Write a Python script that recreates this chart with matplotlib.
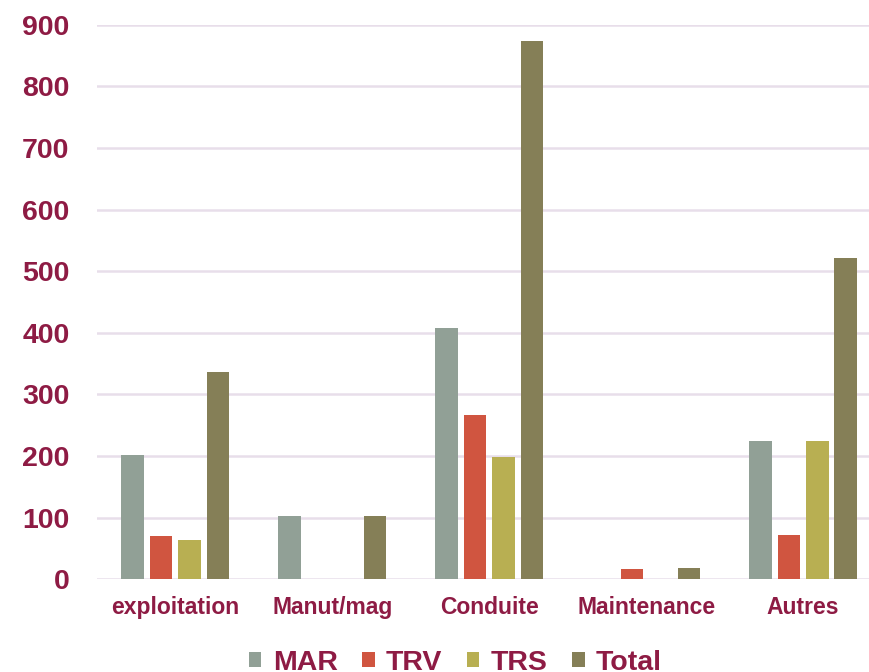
import matplotlib.pyplot as plt
import numpy as np

plt.rcParams['font.family'] = ['Liberation Sans', 'DejaVu Sans']

categories = ["exploitation", "Manut/mag", "Conduite", "Maintenance", "Autres"]
series = ["MAR", "TRV", "TRS", "Total"]
mar = [201, 102, 408, 0, 224]
trv = [70, 0, 266, 17, 72]
trs = [63, 0, 198, 0, 224]
total = [337, 102, 874, 18, 521]
colors = ["#91A096", "#D05540", "#B8AF52", "#857F57"]
text_color = "#8E1B44"

x = np.arange(len(categories))
width = 0.143
step = 0.181

fig = plt.figure(figsize=(8.69, 6.72), dpi=100)
ax = fig.add_axes([0.112, 0.138, 0.888, 0.825])

for i, (name, vals) in enumerate(zip(series, [mar, trv, trs, total])):
    ax.bar(x + (i - 1.5) * step, vals, width, color=colors[i], label=name, zorder=3)

ax.set_ylim(0, 900)
ax.set_xlim(-0.497, 4.42)
ax.set_yticks(range(0, 901, 100))
ax.set_xticks(x, categories)
ax.grid(axis='y', color='#E8DEEA', linewidth=1.8, zorder=0)
for s in ax.spines.values():
    s.set_visible(False)
ax.tick_params(axis='y', length=0, pad=20, labelsize=20.5, labelcolor=text_color)
ax.tick_params(axis='x', length=0, pad=12, labelsize=16.5, labelcolor=text_color)
for lab in ax.get_xticklabels() + ax.get_yticklabels():
    lab.set_fontweight('bold')

leg = fig.legend(loc='center', bbox_to_anchor=(0.524, 0.014), ncol=4, frameon=False,
                 handlelength=0.45, handleheight=0.45, handletextpad=0.4, columnspacing=0.85,
                 prop={'size': 20.5, 'weight': 'bold'})
for t in leg.get_texts():
    t.set_color(text_color)

plt.savefig("out.png", dpi=100)
